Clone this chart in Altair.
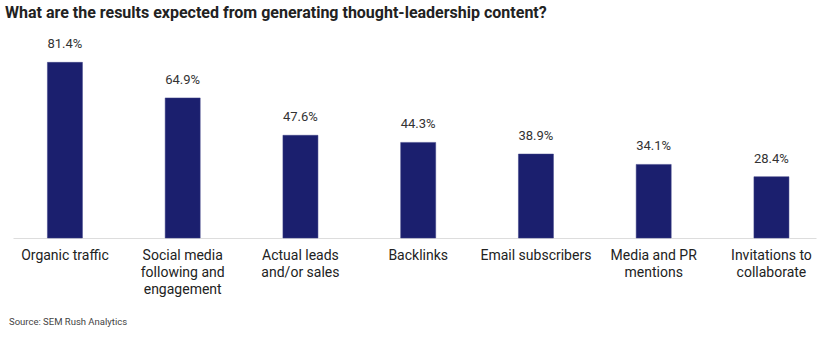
import altair as alt
import pandas as pd

categories = [
    "Organic traffic",
    "Social media|following and|engagement",
    "Actual leads|and/or sales",
    "Backlinks",
    "Email subscribers",
    "Media and PR|mentions",
    "Invitations to|collaborate",
]
values = [81.4, 64.9, 47.6, 44.3, 38.9, 34.1, 28.4]

df = pd.DataFrame({"cat": categories, "val": values})
df["label"] = df["val"].map(lambda v: f"{v:.1f}%")

FONT = "Roboto"
BAR = "#1b1f6e"

x = alt.X(
    "cat:N",
    sort=categories,
    scale=alt.Scale(paddingInner=0.7026, paddingOuter=0.261, align=0.56),
    axis=alt.Axis(
        title=None,
        labelAngle=0,
        labelExpr="split(datum.label, '|')",
        labelFont=FONT,
        labelFontSize=14,
        labelColor="#222222",
        labelPadding=10,
        labelLineHeight=17,
        labelLimit=200,
        ticks=False,
        grid=False,
        domainColor="#dddddd",
        domainWidth=1,
    ),
)
y = alt.Y("val:Q", scale=alt.Scale(domain=[0, 95]), axis=None)

bars = alt.Chart(df).mark_bar(color=BAR, stroke="#3a3f85", strokeWidth=0.5).encode(x=x, y=y)
labels = alt.Chart(df).mark_text(
    baseline="bottom", dy=-11, font=FONT, fontSize=13, color="#333333"
).encode(x=x, y=y, text="label:N")

source = alt.Chart(pd.DataFrame({"t": ["Source: SEM Rush Analytics"]})).mark_text(
    align="left", baseline="middle", font=FONT, fontSize=9.5, color="#444444"
).encode(x=alt.value(-4), y=alt.value(289), text="t:N")

chart = (
    alt.layer(bars, labels, source)
    .properties(
        width=803,
        height=205,
        autosize=alt.AutoSizeParams(type="none"),
        padding={"left": 13, "top": 33, "right": 14, "bottom": 99},
        title=alt.TitleParams(
            "What are the results expected from generating thought-leadership content?",
            anchor="start",
            font=FONT,
            fontSize=16,
            fontWeight="bold",
            color="#222222",
            dx=-4,
            offset=12,
        ),
    )
    .configure(background="white")
    .configure_view(stroke=None, strokeWidth=0)
    .configure_axis(grid=False)
)

chart.save("out.html", embed_options={"renderer": "svg", "actions": False})
